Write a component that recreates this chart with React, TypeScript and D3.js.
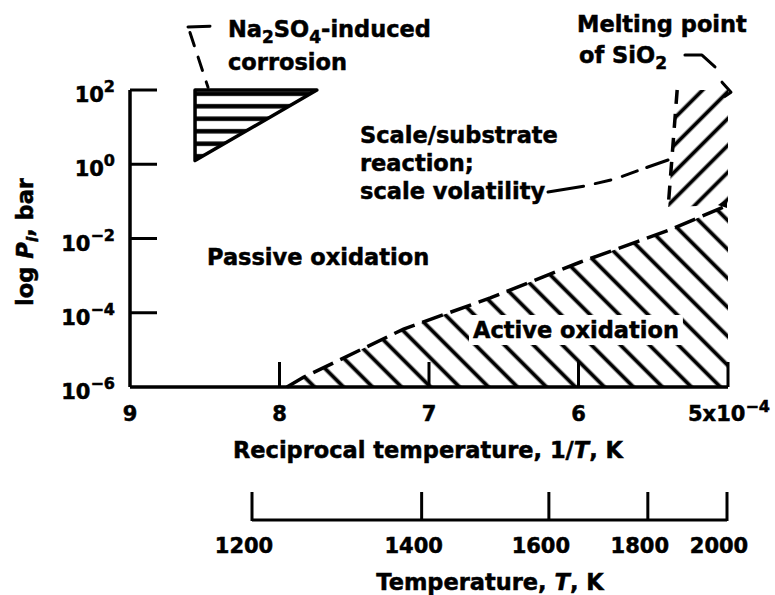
import React, { useEffect, useRef } from 'react';
import * as d3 from 'd3';

// x: reciprocal temperature (x1e-4 1/K), y: log10 of partial pressure (bar)
const yTicks = [2, 0, -2, -4, -6];
const yTickExp = ['2', '0', '\u22122', '\u22124', '\u22126'];
const xTicks = [9, 8, 7, 6, 5];
const xTickLabels = ['9', '8', '7', '6', '5x10'];
const tempTicks = [1200, 1400, 1600, 1800, 2000];

// region outlines
const activeEdge: [number, number][] = [
  [7.95, -6], [7.84, -5.74], [7.17, -4.44], [6.59, -3.6], [5.99, -2.64], [5.39, -1.77], [5.0, -1.1],
];
const activeFloor: [number, number][] = [[5.0, -6], [7.95, -6]];
const corrosionRegion: [number, number][] = [[8.565, 2], [7.75, 2], [8.565, 0.1]];
const meltRegion: [number, number][] = [[5.34, 2], [5.0, 2], [5.0, -1.1], [5.4, -1.15]];
const meltEdge: [number, number][] = [[5.34, 2], [5.4, -1.15]];

// leader lines of the annotations
const naLeader: [number, number][] = [[8.599, 3.55], [8.478, 2.07]];
const naLeaderCap: [number, number][] = [[8.612, 3.7], [8.465, 3.72]];
const siLeader: [number, number][] = [[5.288, 2.94], [5.174, 2.94], [5.087, 2.62]];
const siBracket: [number, number][] = [[5.04, 2.21], [4.98, 1.94], [5.02, 1.83]];
const volLeader: [number, number][] = [[6.204, -0.747], [5.957, -0.586], [5.756, -0.397], [5.535, -0.074], [5.401, 0.114]];

const FONT = '"DejaVu Sans", "Liberation Sans", Arial, sans-serif';

function OxidationMap() {
  const svgRef = useRef<SVGSVGElement>(null);

  useEffect(() => {
    const svg = d3.select(svgRef.current);
    svg.selectAll('*').remove();

    const x = d3.scaleLinear().domain([9, 5]).range([130, 728]);
    const y = d3.scaleLinear().domain([-6, 2]).range([387, 90]);
    // second axis, drawn by hand in the original so it has its own span
    const tx = d3.scaleLinear().domain([1e4 / 1200, 1e4 / 2000]).range([252, 727]);
    const tickLen = 27;

    const line = d3.line<[number, number]>().x(d => x(d[0])).y(d => y(d[1]));
    const defs = svg.append('defs');

    const addHatch = (id: string, gap: number, angle: number, width: number) => {
      const p = defs.append('pattern')
        .attr('id', id)
        .attr('patternUnits', 'userSpaceOnUse')
        .attr('width', 10)
        .attr('height', gap)
        .attr('patternTransform', `rotate(${angle})`);
      p.append('line')
        .attr('x1', -1).attr('x2', 11)
        .attr('y1', gap / 2).attr('y2', gap / 2)
        .attr('stroke', '#000')
        .attr('stroke-width', width);
    };
    addHatch('hatchActive', 20.5, 45, 3.8);
    addHatch('hatchMelt', 19, -45, 3.8);
    addHatch('hatchNa', 12.5, 0, 4.5);

    const g = svg.append('g')
      .attr('font-family', FONT)
      .attr('font-weight', 'bold');

    // active oxidation region
    g.append('path')
      .attr('d', line([...activeEdge, ...activeFloor]) + 'Z')
      .attr('fill', 'url(#hatchActive)');
    g.append('path')
      .attr('d', line(activeEdge))
      .attr('fill', 'none')
      .attr('stroke', '#000')
      .attr('stroke-width', 3.5)
      .attr('stroke-dasharray', '22 8');

    // melting point band
    g.append('path')
      .attr('d', line(meltRegion) + 'Z')
      .attr('fill', 'url(#hatchMelt)');
    g.append('path')
      .attr('d', line(meltEdge))
      .attr('fill', 'none')
      .attr('stroke', '#000')
      .attr('stroke-width', 3.5)
      .attr('stroke-dasharray', '14 10');
    const corner = meltRegion[2];
    g.append('path')
      .attr('d', `M${x(corner[0]) - 10},${y(corner[1])}l9,-6l0,9Z`)
      .attr('fill', '#000');

    // Na2SO4 corrosion wedge
    g.append('path')
      .attr('d', line(corrosionRegion) + 'Z')
      .attr('fill', 'url(#hatchNa)')
      .attr('stroke', '#000')
      .attr('stroke-width', 3.5)
      .attr('stroke-linejoin', 'round');

    // axes
    g.append('line')
      .attr('x1', x(9)).attr('x2', x(9))
      .attr('y1', y(2)).attr('y2', y(-6))
      .attr('stroke', '#000').attr('stroke-width', 3.5);
    g.append('line')
      .attr('x1', x(9)).attr('x2', x(5))
      .attr('y1', y(-6)).attr('y2', y(-6))
      .attr('stroke', '#000').attr('stroke-width', 3.5);

    // text layer, slightly stroked to match the heavy print
    const tg = g.append('g').attr('stroke', '#000').attr('stroke-width', 0.5);

    yTicks.forEach((t, i) => {
      if (t > -6) {
        g.append('line')
          .attr('x1', x(9)).attr('x2', x(9) + tickLen)
          .attr('y1', y(t)).attr('y2', y(t))
          .attr('stroke', '#000').attr('stroke-width', 3);
      }
      const lab = tg.append('text')
        .attr('x', x(9) - 15)
        .attr('y', y(t) + 12)
        .attr('text-anchor', 'end')
        .attr('font-size', 21);
      lab.append('tspan').text('10');
      lab.append('tspan').attr('dy', -10).attr('font-size', 16).text(yTickExp[i]);
    });

    xTicks.forEach((t, i) => {
      if (t < 9) {
        g.append('line')
          .attr('x1', x(t)).attr('x2', x(t))
          .attr('y1', y(-6)).attr('y2', y(-6) - tickLen + 2)
          .attr('stroke', '#000').attr('stroke-width', 3);
      }
      const last = i === xTicks.length - 1;
      const lab = tg.append('text')
        .attr('x', last ? x(t) - 40 : x(t))
        .attr('y', 421)
        .attr('text-anchor', last ? 'start' : 'middle')
        .attr('font-size', 21);
      lab.append('tspan').text(xTickLabels[i]);
      if (last) lab.append('tspan').attr('dy', -9).attr('font-size', 16).text('\u22124');
    });

    const xt = tg.append('text')
      .attr('x', 428).attr('y', 458)
      .attr('text-anchor', 'middle')
      .attr('font-size', 22.5);
    xt.append('tspan').text('Reciprocal temperature, 1/');
    xt.append('tspan').attr('font-style', 'italic').text('T');
    xt.append('tspan').text(', K');

    const yt = tg.append('text')
      .attr('transform', 'translate(33,242) rotate(-90)')
      .attr('text-anchor', 'middle')
      .attr('font-size', 22.5);
    yt.append('tspan').text('log ');
    yt.append('tspan').attr('font-style', 'italic').text('P');
    yt.append('tspan').attr('font-style', 'italic').attr('font-size', 16).attr('dy', 5).text('i');
    yt.append('tspan').attr('dy', -5).text(', bar');

    // temperature axis
    const tY = 520;
    g.append('line')
      .attr('x1', tx(1e4 / 1200)).attr('x2', tx(1e4 / 2000))
      .attr('y1', tY).attr('y2', tY)
      .attr('stroke', '#000').attr('stroke-width', 3);
    tempTicks.forEach(T => {
      g.append('line')
        .attr('x1', tx(1e4 / T)).attr('x2', tx(1e4 / T))
        .attr('y1', tY + 1).attr('y2', tY - 28)
        .attr('stroke', '#000').attr('stroke-width', 3);
      tg.append('text')
        .attr('x', tx(1e4 / T) - 8)
        .attr('y', 553)
        .attr('text-anchor', 'middle')
        .attr('font-size', 21)
        .text(String(T));
    });
    const tt = tg.append('text')
      .attr('x', 490).attr('y', 590)
      .attr('text-anchor', 'middle')
      .attr('font-size', 22.5);
    tt.append('tspan').text('Temperature, ');
    tt.append('tspan').attr('font-style', 'italic').text('T');
    tt.append('tspan').text(', K');

    // region labels
    tg.append('text')
      .attr('x', 207).attr('y', 265)
      .attr('font-size', 22.5)
      .text('Passive oxidation');

    const act = tg.append('text')
      .attr('x', 473).attr('y', 338)
      .attr('font-size', 22.5)
      .text('Active oxidation');
    const bb = (act.node() as SVGTextElement).getBBox();
    g.insert('rect', () => tg.node())
      .attr('x', bb.x - 4).attr('y', bb.y - 2)
      .attr('width', bb.width + 8).attr('height', bb.height + 4)
      .attr('fill', '#fff');

    ['Scale/substrate', 'reaction;', 'scale volatility'].forEach((s, i) => {
      tg.append('text')
        .attr('x', 360).attr('y', 143 + i * 28)
        .attr('font-size', 22.5)
        .text(s);
    });

    const na = tg.append('text').attr('x', 228).attr('y', 37).attr('font-size', 22.5);
    na.append('tspan').text('Na');
    na.append('tspan').attr('font-size', 17).attr('dy', 6).text('2');
    na.append('tspan').attr('dy', -6).text('SO');
    na.append('tspan').attr('font-size', 17).attr('dy', 6).text('4');
    na.append('tspan').attr('dy', -6).text('-induced');
    tg.append('text').attr('x', 228).attr('y', 70).attr('font-size', 22.5).text('corrosion');

    tg.append('text').attr('x', 577).attr('y', 32).attr('font-size', 22.5).text('Melting point');
    const si = tg.append('text').attr('x', 579).attr('y', 63).attr('font-size', 22.5);
    si.append('tspan').text('of SiO');
    si.append('tspan').attr('font-size', 17).attr('dy', 6).text('2');

    // leaders
    const leader = (pts: [number, number][], dash: string | null) => {
      const p = g.append('path')
        .attr('d', line(pts))
        .attr('fill', 'none')
        .attr('stroke', '#000')
        .attr('stroke-width', 3)
        .attr('stroke-linecap', 'round')
        .attr('stroke-linejoin', 'round');
      if (dash) p.attr('stroke-dasharray', dash);
    };
    leader(naLeader, '14 12');
    leader(naLeaderCap, null);
    leader(siLeader, null);
    leader(siBracket, null);
    leader(volLeader, '36 12 16 12 16 10');
  }, []);

  return (
    <svg
      ref={svgRef}
      width={775}
      height={595}
      style={{ position: 'absolute', left: 0, top: 0, background: '#fff' }}
    ></svg>
  );
}

export default function App() {
  return <OxidationMap />;
}
